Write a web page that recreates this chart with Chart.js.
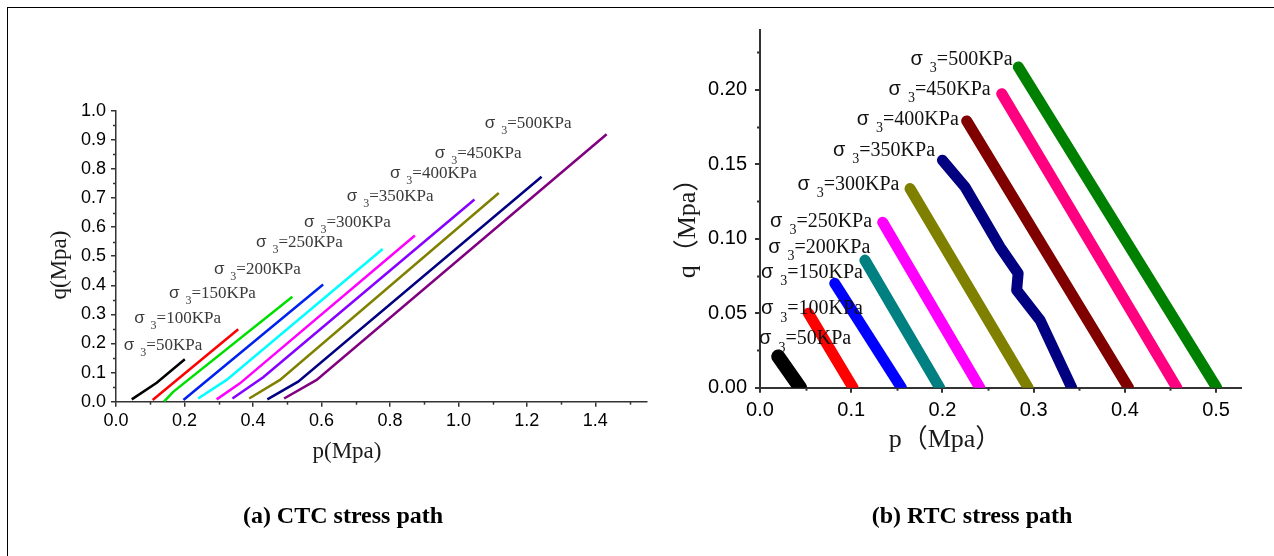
<!DOCTYPE html>
<html>
<head>
<meta charset="utf-8">
<script src="https://cdn.jsdelivr.net/npm/chart.js@4.4.0/dist/chart.umd.min.js"></script>
<style>
  html, body { margin: 0; padding: 0; background: #fff; }
  body { width: 1274px; height: 556px; position: relative; overflow: hidden; }
  #frame { position: absolute; left: 7px; top: 7px; right: 0; bottom: 0;
           border-top: 1.5px solid #000; border-left: 1.5px solid #000; }
  canvas { position: absolute; top: 0; }
  #ctc { left: 0; }
  #rtc { left: 660px; }
</style>
</head>
<body>
<div id="frame"></div>
<canvas id="ctc" width="660" height="556"></canvas>
<canvas id="rtc" width="614" height="556"></canvas>
<script>
// confining pressures (KPa)
const sigma3 = ['50', '100', '150', '200', '250', '300', '350', '400', '450', '500'];

// (a) CTC stress paths, [p, q] in MPa
const ctc50  = [[0.046, 0.008], [0.119, 0.065], [0.201, 0.146]];
const ctc100 = [[0.107, 0.006], [0.357, 0.249]];
const ctc150 = [[0.140, 0.000], [0.167, 0.034], [0.515, 0.361]];
const ctc200 = [[0.197, 0.006], [0.226, 0.034], [0.605, 0.403]];
const ctc250 = [[0.240, 0.011], [0.323, 0.075], [0.779, 0.525]];
const ctc300 = [[0.294, 0.008], [0.362, 0.063], [0.873, 0.571]];
const ctc350 = [[0.340, 0.011], [0.430, 0.084], [1.047, 0.695]];
const ctc400 = [[0.389, 0.011], [0.479, 0.075], [1.118, 0.717]];
const ctc450 = [[0.442, 0.008], [0.532, 0.069], [1.243, 0.773]];
const ctc500 = [[0.491, 0.011], [0.586, 0.075], [1.433, 0.919]];

// (b) RTC stress paths, [p, q] in MPa (centre of each scattered band)
const rtc50  = [[0.020, 0.021], [0.044, 0.000]];
const rtc100 = [[0.053, 0.050], [0.102, 0.000]];
const rtc150 = [[0.082, 0.070], [0.155, 0.000]];
const rtc200 = [[0.115, 0.0856], [0.197, 0.000]];
const rtc250 = [[0.1345, 0.111], [0.241, 0.000]];
const rtc300 = [[0.1645, 0.1336], [0.294, 0.000]];
const rtc350 = [[0.200, 0.1526], [0.2248, 0.1347], [0.263, 0.0945], [0.283, 0.0767],
                [0.2814, 0.0655], [0.307, 0.0454], [0.3417, 0.000]];
const rtc400 = [[0.2266, 0.179], [0.404, 0.000]];
const rtc450 = [[0.265, 0.1973], [0.457, 0.000]];
const rtc500 = [[0.2832, 0.2152], [0.5007, 0.000]];

const ctcSeries = [ctc50, ctc100, ctc150, ctc200, ctc250, ctc300, ctc350, ctc400, ctc450, ctc500];
const rtcSeries = [rtc50, rtc100, rtc150, rtc200, rtc250, rtc300, rtc350, rtc400, rtc450, rtc500];

const ctcColors = ['#000000', '#ff0000', '#00e000', '#0022ee', '#00ffff',
                   '#ff00ff', '#8800ff', '#808000', '#000080', '#800080'];
const rtcColors = ['#000000', '#ff0000', '#0000ff', '#008080', '#ff00ff',
                   '#808000', '#000080', '#800000', '#ff0080', '#008000'];

// where the σ3 labels sit, in data units (left edge, middle of text)
const ctcLabelAt = [[0.023, 0.195], [0.053, 0.288], [0.155, 0.374], [0.286, 0.456], [0.409, 0.549],
                    [0.549, 0.618], [0.674, 0.707], [0.800, 0.787], [0.931, 0.856], [1.077, 0.958]];
const rtcLabelAt = [[-0.001, 0.0331], [0.001, 0.0532], [0.001, 0.0777], [0.009, 0.0945], [0.011, 0.1119],
                    [0.041, 0.1365], [0.080, 0.1593], [0.106, 0.1806], [0.141, 0.2007], [0.165, 0.2208]];

const toPts = arr => arr.map(d => ({ x: d[0], y: d[1] }));

function drawSigma(ctx, x, y, value, fs, color) {
    ctx.save();
    ctx.fillStyle = color;
    ctx.textAlign = 'left';
    ctx.textBaseline = 'alphabetic';
    const base = y + fs * 0.3;
    ctx.font = fs + 'px "Liberation Sans", Arial, sans-serif';
    ctx.fillText('σ', x, base);
    let cx = x + ctx.measureText('σ').width + fs * 0.35;
    ctx.font = Math.round(fs * 0.68) + 'px "Liberation Serif", serif';
    ctx.fillText('3', cx, base + fs * 0.36);
    cx += ctx.measureText('3').width;
    ctx.font = fs + 'px "Liberation Serif", serif';
    ctx.fillText('=' + value + 'KPa', cx, base);
    ctx.restore();
}

// labels, axis titles, minor ticks and caption
const decorPlugin = {
    id: 'decor',
    afterDraw(chart, args, opts) {
        const ctx = chart.ctx;
        const xs = chart.scales.x, ys = chart.scales.y;
        const a = chart.chartArea;

        // minor ticks
        ctx.save();
        ctx.strokeStyle = opts.axisColor;
        ctx.lineWidth = opts.axisWidth;
        for (let v = opts.minorX; v < xs.max; v += opts.minorX * 2) {
            const px = Math.round(xs.getPixelForValue(v)) + 0.5;
            ctx.beginPath(); ctx.moveTo(px, a.bottom); ctx.lineTo(px, a.bottom + 3); ctx.stroke();
        }
        for (let v = opts.minorY; v < ys.max; v += opts.minorY * 2) {
            const py = Math.round(ys.getPixelForValue(v)) + 0.5;
            ctx.beginPath(); ctx.moveTo(a.left, py); ctx.lineTo(a.left - 3, py); ctx.stroke();
        }
        ctx.restore();

        // σ3 labels
        opts.labelAt.forEach((p, i) => {
            drawSigma(ctx, xs.getPixelForValue(p[0]), ys.getPixelForValue(p[1]),
                      sigma3[i], opts.labelSize, opts.labelColor);
        });

        // axis titles
        ctx.save();
        ctx.fillStyle = '#1a1a1a';
        ctx.textAlign = 'center';
        ctx.textBaseline = 'middle';
        ctx.font = opts.titleSize + 'px "Liberation Serif", "Noto Sans CJK SC", serif';
        ctx.fillText(opts.xTitle, opts.xTitlePos[0], opts.xTitlePos[1]);
        ctx.translate(opts.yTitlePos[0], opts.yTitlePos[1]);
        ctx.rotate(-Math.PI / 2);
        ctx.fillText(opts.yTitle, 0, 0);
        ctx.restore();

        // caption
        ctx.save();
        ctx.fillStyle = '#000';
        ctx.textAlign = 'center';
        ctx.textBaseline = 'alphabetic';
        ctx.font = 'bold 24px "Liberation Serif", "Times New Roman", serif';
        ctx.fillText(opts.caption, opts.captionPos[0], opts.captionPos[1]);
        ctx.restore();
    }
};

function axis(min, max, step, digits, fontSize, axisW, fitSize, isX, pad) {
    return {
        type: 'linear',
        min: min,
        max: max,
        border: { display: true, color: '#333', width: axisW },
        grid: { drawOnChartArea: false, drawTicks: true, tickLength: 5, color: '#333', lineWidth: axisW },
        ticks: {
            stepSize: step,
            autoSkip: false,
            includeBounds: false,
            maxRotation: 0,
            padding: pad,
            color: '#000',
            font: { family: '"Liberation Sans", Arial, sans-serif', size: fontSize },
            callback: v => Number(v).toFixed(digits)
        },
        afterFit: s => { if (isX) s.height = fitSize; else s.width = fitSize; }
    };
}

Chart.defaults.animation = false;

new Chart(document.getElementById('ctc'), {
    type: 'scatter',
    data: {
        datasets: ctcSeries.map((s, i) => ({
            data: toPts(s),
            showLine: true,
            borderColor: ctcColors[i],
            backgroundColor: ctcColors[i],
            borderWidth: 2.5,
            pointRadius: 0,
            tension: 0
        }))
    },
    options: {
        responsive: false,
        devicePixelRatio: 1,
        layout: { padding: { left: 0, right: 13.3, top: 110.7, bottom: 556 - 401.7 - 40 } },
        plugins: {
            legend: { display: false },
            tooltip: { enabled: false },
            decor: {
                minorX: 0.1, minorY: 0.05, axisColor: '#333', axisWidth: 1.5,
                labelAt: ctcLabelAt, labelSize: 17, labelColor: '#3a3a3a',
                xTitle: 'p(Mpa)', xTitlePos: [347, 452],
                yTitle: 'q(Mpa)', yTitlePos: [60, 265], titleSize: 23,
                caption: '(a) CTC stress path', captionPos: [343, 523]
            }
        },
        scales: {
            x: axis(0, 1.55, 0.2, 1, 18, 1.5, 40, true, 4),
            y: axis(0, 1.0, 0.1, 1, 18, 1.5, 116, false, 5)
        }
    },
    plugins: [decorPlugin]
});

new Chart(document.getElementById('rtc'), {
    type: 'scatter',
    data: {
        datasets: rtcSeries.map((s, i) => ({
            data: toPts(s),
            showLine: true,
            borderColor: rtcColors[i],
            backgroundColor: rtcColors[i],
            borderWidth: i === 0 ? 14 : 11,
            borderCapStyle: 'round',
            borderJoinStyle: 'round',
            pointRadius: 0,
            tension: 0,
            clip: 0
        }))
    },
    options: {
        responsive: false,
        devicePixelRatio: 1,
        layout: { padding: { left: 0, right: 33.3, top: 30, bottom: 556 - 387.7 - 40 } },
        plugins: {
            legend: { display: false },
            tooltip: { enabled: false },
            decor: {
                minorX: 0.05, minorY: 0.025, axisColor: '#333', axisWidth: 2,
                labelAt: rtcLabelAt, labelSize: 20, labelColor: '#111',
                xTitle: 'p（Mpa）', xTitlePos: [285, 440],
                yTitle: 'q（Mpa）', yTitlePos: [28, 222], titleSize: 26,
                caption: '(b) RTC stress path', captionPos: [312, 523]
            }
        },
        scales: {
            x: axis(0, 0.527, 0.1, 1, 20, 2, 40, true, 6),
            y: axis(0, 0.24, 0.05, 2, 20, 2, 100, false, 8)
        }
    },
    plugins: [decorPlugin]
});
</script>
</body>
</html>
